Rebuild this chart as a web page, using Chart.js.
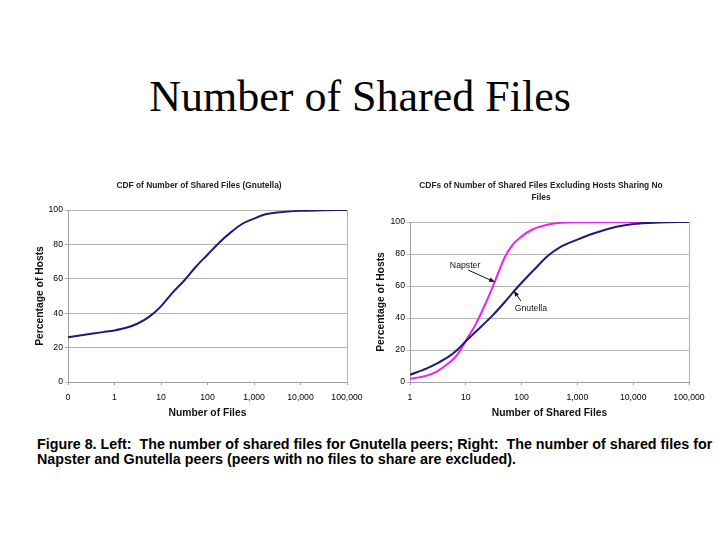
<!DOCTYPE html>
<html>
<head>
<meta charset="utf-8">
<script src="https://cdn.jsdelivr.net/npm/chart.js@4.4.1/dist/chart.umd.min.js"></script>
<style>
  html, body { margin: 0; padding: 0; background: #fff; }
  body { width: 720px; height: 540px; position: relative; overflow: hidden; }
  #title { position: absolute; left: 0; top: 75px; width: 720px; text-align: center;
    font-family: "Liberation Serif", "Times New Roman", serif; font-size: 44px; line-height: 44px; color: #000; }
  .box { position: absolute; width: 345px; height: 250px; }
  #leftBox { left: 20px; top: 175px; }
  #rightBox { left: 370px; top: 175px; }
  #caption { position: absolute; left: 37px; top: 437px; width: 683px;
    font-family: "Liberation Sans", Arial, sans-serif;
    font-weight: bold; font-size: 14.3px; line-height: 15px; color: #000; white-space: nowrap; }
</style>
</head>
<body>
<div id="title">Number of Shared Files</div>
<div class="box" id="leftBox"><canvas id="leftChart"></canvas></div>
<div class="box" id="rightBox"><canvas id="rightChart"></canvas></div>
<div id="caption">Figure 8. Left:&nbsp; The number of shared files for Gnutella peers; Right:&nbsp; The number of shared files for<br>Napster and Gnutella peers (peers with no files to share are excluded).</div>
<script>
// ---- Left chart data (x = position on the decade axis: 0 -> "0", 1 -> "1", 2 -> "10", ...)
const leftTickLabels = ['0', '1', '10', '100', '1,000', '10,000', '100,000'];
const leftPos = [0, 0.25, 0.5, 0.75, 1, 1.25, 1.5, 1.75, 2, 2.25, 2.5, 2.75, 3, 3.25, 3.5, 3.75, 4, 4.25, 4.5, 5, 5.5, 6];
const leftPct = [26, 27, 28, 29, 30, 31.5, 34, 38, 44, 52, 59, 67, 74, 81, 87, 92, 95, 97.5, 98.5, 99.5, 99.8, 100];

// ---- Right chart data (x = number of shared files, log axis)
const rightTickValues = [1, 10, 100, 1000, 10000, 100000];
const gnuFiles = [1, 2, 3, 5, 7, 10, 20, 30, 50, 70, 100, 200, 300, 500, 1000, 2000, 5000, 10000, 30000, 100000];
const gnuPct = [4.5, 8.5, 11.5, 16, 20, 25.5, 35.5, 41.5, 50, 56, 62, 73, 79, 84.5, 89, 93, 97, 98.8, 99.7, 100];
const napFiles = [1, 2, 3, 5, 7, 10, 15, 20, 30, 40, 50, 70, 100, 150, 200, 300, 500, 1000, 3000, 20000];
const napPct = [2, 4, 6.5, 12, 17, 25.8, 36, 45, 59, 70, 78, 86, 91, 95, 96.8, 98.5, 99.5, 99.9, 100, 100];

const yTicks = [0, 20, 40, 60, 80, 100];

// annotation labels (in data units of the right chart)
const annotations = [
  { text: 'Napster', x: 9.7, y: 72.5, fromX: 11, fromY: 70, toX: 33, toY: 62.5 },
  { text: 'Gnutella', x: 147, y: 45.6, fromX: 97, fromY: 50.6, toX: 73, toY: 56.9 }
];

const FONT = '"Liberation Sans", Arial, sans-serif';
Chart.defaults.font.family = FONT;
Chart.defaults.color = '#000';
const GRID = '#b4b4b4';
const AXIS = '#a0a0a0';

const rightBorder = {
  id: 'rightBorder',
  afterDraw(chart) {
    const { ctx, chartArea: a } = chart;
    ctx.save();
    ctx.strokeStyle = GRID;
    ctx.lineWidth = 1;
    ctx.beginPath();
    ctx.moveTo(Math.round(a.right) + 0.5, a.top);
    ctx.lineTo(Math.round(a.right) + 0.5, a.bottom);
    ctx.stroke();
    ctx.restore();
  }
};

// centre the chart title slightly left of the plot-area centre, as in the original
const titleShift = {
  id: 'titleShift',
  afterLayout(chart) {
    const tb = chart.titleBlock, a = chart.chartArea;
    if (!tb) return;
    const w = tb.right - tb.left;
    const c = (a.left + a.right) / 2 - 8.5;
    tb.left = c - w / 2;
    tb.right = c + w / 2;
  }
};

const annotate = {
  id: 'annotate',
  afterDatasetsDraw(chart) {
    const { ctx } = chart;
    const xs = chart.scales.x, ys = chart.scales.y;
    ctx.save();
    annotations.forEach(a => {
      ctx.font = '8.7px ' + FONT;
      ctx.fillStyle = '#111';
      ctx.textAlign = 'center';
      ctx.textBaseline = 'middle';
      ctx.fillText(a.text, xs.getPixelForValue(a.x), ys.getPixelForValue(a.y));
      const x1 = xs.getPixelForValue(a.fromX), y1 = ys.getPixelForValue(a.fromY);
      const x2 = xs.getPixelForValue(a.toX), y2 = ys.getPixelForValue(a.toY);
      ctx.strokeStyle = '#111';
      ctx.lineWidth = 1;
      ctx.beginPath(); ctx.moveTo(x1, y1); ctx.lineTo(x2, y2); ctx.stroke();
      const ang = Math.atan2(y2 - y1, x2 - x1), L = 6, W = 0.4;
      ctx.fillStyle = '#111';
      ctx.beginPath();
      ctx.moveTo(x2, y2);
      ctx.lineTo(x2 - L * Math.cos(ang - W), y2 - L * Math.sin(ang - W));
      ctx.lineTo(x2 - L * Math.cos(ang + W), y2 - L * Math.sin(ang + W));
      ctx.closePath(); ctx.fill();
    });
    ctx.restore();
  }
};

function yScale(width, titlePad) {
  return {
    min: 0, max: 100,
    afterBuildTicks: s => { s.ticks = yTicks.map(v => ({ value: v })); },
    afterFit: s => { s.width = width; },
    grid: { color: GRID, tickLength: 3, drawTicks: true },
    border: { display: true, color: AXIS },
    ticks: { font: { size: 8.7 }, padding: 2, color: '#000' },
    title: { display: true, text: 'Percentage of Hosts', font: { size: 10.3, weight: 'bold' }, color: '#111',
      padding: { top: titlePad, bottom: 0 } }
  };
}

function xBase(titleText) {
  return {
    afterFit: s => { s.height = 43; s.paddingLeft = 0; s.paddingRight = 0; },
    grid: { drawOnChartArea: false, drawTicks: true, tickLength: 3, color: AXIS },
    border: { display: true, color: AXIS },
    ticks: { font: { size: 8.7 }, padding: 7, color: '#000', maxRotation: 0, autoSkip: false },
    title: { display: true, text: titleText, font: { size: 10.3, weight: 'bold' }, color: '#111',
      padding: { top: 0, bottom: 5.8 } }
  };
}

// ---- Left chart
const leftX = Object.assign(xBase('Number of Files'), {
  type: 'linear', min: 0, max: 6,
  afterBuildTicks: s => { s.ticks = leftTickLabels.map((_, i) => ({ value: i })); }
});
leftX.ticks.callback = v => leftTickLabels[v];

new Chart(document.getElementById('leftChart'), {
  type: 'line',
  data: {
    datasets: [{
      label: 'Gnutella',
      data: leftPos.map((p, i) => ({ x: p, y: leftPct[i] })),
      borderColor: '#1c1c78', borderWidth: 2, pointRadius: 0,
      cubicInterpolationMode: 'monotone', fill: false
    }]
  },
  options: {
    responsive: true, maintainAspectRatio: false, animation: false,
    layout: { padding: { left: 0, right: 18, top: 0, bottom: 0 } },
    plugins: {
      legend: { display: false }, tooltip: { enabled: false },
      title: { display: true, text: 'CDF of Number of Shared Files (Gnutella)', color: '#222',
        font: { size: 8.4, weight: 'bold', lineHeight: '12px' }, padding: { top: 5, bottom: 18 } }
    },
    scales: { x: leftX, y: yScale(48, 13.8) }
  },
  plugins: [rightBorder, titleShift]
});

// ---- Right chart
const rightX = Object.assign(xBase('Number of Shared Files'), {
  type: 'logarithmic', min: 1, max: 100000,
  afterBuildTicks: s => { s.ticks = rightTickValues.map(v => ({ value: v })); }
});
rightX.ticks.callback = v => Number(v).toLocaleString('en-US');

new Chart(document.getElementById('rightChart'), {
  type: 'line',
  data: {
    datasets: [
      {
        label: 'Gnutella',
        data: gnuFiles.map((f, i) => ({ x: f, y: gnuPct[i] })),
        borderColor: '#1c1c78', borderWidth: 2, pointRadius: 0,
        cubicInterpolationMode: 'monotone', fill: false
      },
      {
        label: 'Napster',
        data: napFiles.map((f, i) => ({ x: f, y: napPct[i] })),
        borderColor: '#ee22ee', borderWidth: 2, pointRadius: 0,
        cubicInterpolationMode: 'monotone', fill: false
      }
    ]
  },
  options: {
    responsive: true, maintainAspectRatio: false, animation: false,
    layout: { padding: { left: 0, right: 26, top: 0, bottom: 0 } },
    plugins: {
      legend: { display: false }, tooltip: { enabled: false },
      title: { display: true, text: ['CDFs of Number of Shared Files Excluding Hosts Sharing No', 'Files'], color: '#222',
        font: { size: 8.4, weight: 'bold', lineHeight: '12px' }, padding: { top: 5, bottom: 18 } }
    },
    scales: { x: rightX, y: yScale(40, 4.8) }
  },
  plugins: [rightBorder, titleShift, annotate]
});
</script>
</body>
</html>
